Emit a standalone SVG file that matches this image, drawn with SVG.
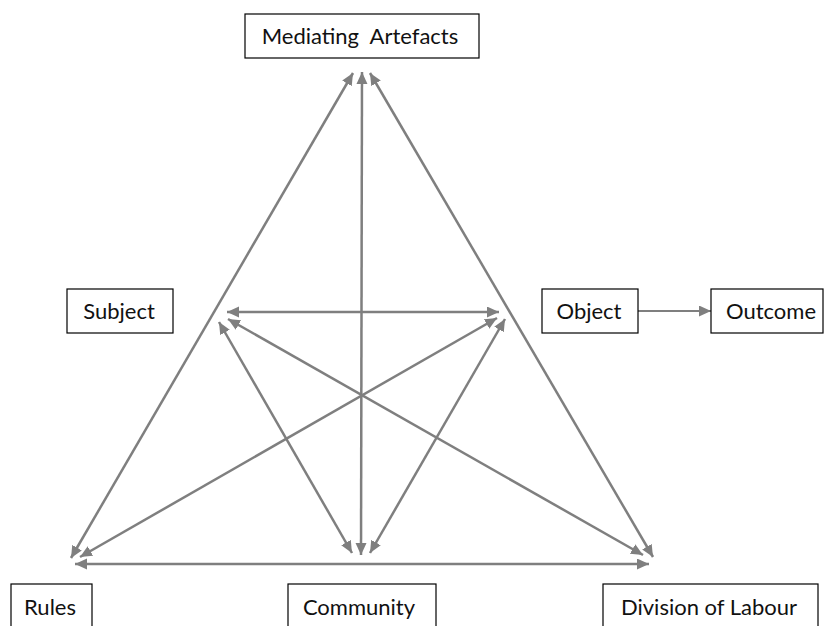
<svg xmlns="http://www.w3.org/2000/svg" width="824" height="626" viewBox="0 0 824 626">
<defs>
<marker id="ah" markerUnits="userSpaceOnUse" markerWidth="14" markerHeight="12" refX="12" refY="5.5" orient="auto-start-reverse" viewBox="0 0 14 12">
<path d="M0,0 L12,5.5 L0,11 z" fill="#7f7f7f"/>
</marker>
</defs>
<style>
.box{fill:#fff;stroke:#000;stroke-width:1.2}
.lbl{font-family:Lato,"Liberation Sans",sans-serif;font-size:22px;fill:#111;text-anchor:middle}
.c{stroke:#7f7f7f;stroke-width:2.5;fill:none;marker-start:url(#ah);marker-end:url(#ah)}
.s{stroke:#7f7f7f;stroke-width:2;fill:none;marker-end:url(#ah)}
</style>
<rect width="824" height="626" fill="#fff"/>
<g id="connectors">
<line class="c" x1="353" y1="73" x2="71" y2="558"/>
<line class="c" x1="370" y1="73" x2="653" y2="557"/>
<line class="c" x1="362" y1="72" x2="361" y2="555"/>
<line class="c" x1="75" y1="564" x2="649" y2="564"/>
<line class="c" x1="227" y1="312" x2="499" y2="312"/>
<line class="c" x1="228" y1="319" x2="643" y2="555"/>
<line class="c" x1="497" y1="318" x2="80" y2="557"/>
<line class="c" x1="219" y1="322" x2="352" y2="553"/>
<line class="c" x1="505" y1="319" x2="370" y2="553"/>
<line class="s" x1="638" y1="311" x2="711" y2="311"/>
</g>
<g id="mediating">
<rect class="box" x="245" y="14" width="234" height="44"/>
<text class="lbl" x="360" y="44" xml:space="preserve">Mediating  Artefacts</text>
</g>
<g id="subject">
<rect class="box" x="67" y="289" width="106" height="44"/>
<text class="lbl" x="119" y="319">Subject</text>
</g>
<g id="object">
<rect class="box" x="542" y="289" width="96" height="44"/>
<text class="lbl" x="589" y="319">Object</text>
</g>
<g id="outcome">
<rect class="box" x="711" y="289" width="112" height="44"/>
<text class="lbl" x="771" y="319">Outcome</text>
</g>
<g id="rules">
<rect class="box" x="11" y="584" width="81" height="50"/>
<text class="lbl" x="50" y="615">Rules</text>
</g>
<g id="community">
<rect class="box" x="288" y="584" width="148" height="50"/>
<text class="lbl" x="359" y="615">Community</text>
</g>
<g id="division">
<rect class="box" x="603" y="584" width="215" height="50"/>
<text class="lbl" x="709" y="615">Division of Labour</text>
</g>
</svg>
